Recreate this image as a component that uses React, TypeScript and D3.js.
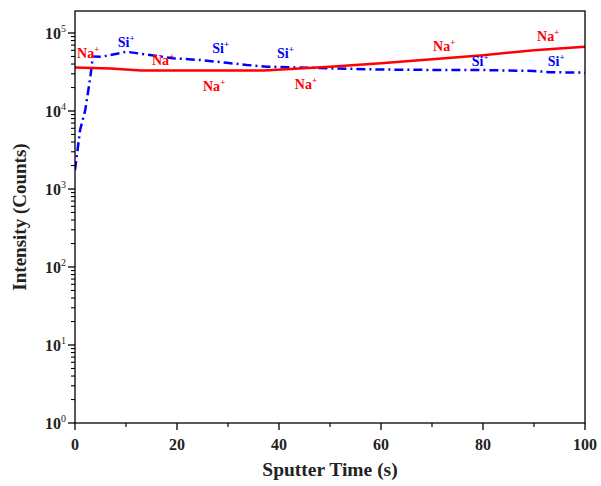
import React from 'react';
import * as d3 from 'd3';

// sputter time (s) and intensity (counts)
const naTime = [0, 7, 13, 37, 44, 50, 60, 70, 80, 90, 100];
const naCounts = [36000, 35000, 33000, 33000, 35000, 37000, 41000, 46000, 52000, 60000, 66700];

const siTime = [0, 0.3, 1, 2, 3, 3.5, 5.2, 10.1, 14.7, 19.2, 24.5, 29.7, 33.7, 37.6, 42.7, 49.4, 60, 70, 80, 90, 93, 100];
const siCounts = [1750, 2500, 5700, 10200, 27000, 50000, 49600, 57500, 52200, 47400, 45100, 41600, 38900, 37000, 36300, 35300, 34000, 33600, 33500, 32600, 31500, 31000];

const naLabels = [
  { t: 0.4, v: 48000 },
  { t: 15.1, v: 39000 },
  { t: 25.1, v: 18000 },
  { t: 43.1, v: 19100 },
  { t: 70.2, v: 58900 },
  { t: 90.6, v: 79000 },
];
const siLabels = [
  { t: 8.4, v: 66000 },
  { t: 26.9, v: 55500 },
  { t: 39.6, v: 48000 },
  { t: 77.8, v: 37800 },
  { t: 92.7, v: 37800 },
];

const xTicks = [0, 20, 40, 60, 80, 100];
const xMinor = [10, 30, 50, 70, 90];
const yExponents = [0, 1, 2, 3, 4, 5];

const width = 601;
const height = 486;
const left = 75;
const right = 585;
const bottom = 423;
const top = 11;

const font = '"Liberation Serif", "Times New Roman", serif';

export default function App() {
  const x = d3.scaleLinear().domain([0, 100]).range([left, right]);
  // 10^0 at bottom, 10^5 at y=33, frame top a bit above
  const y = d3.scaleLog().domain([1, 1e5]).range([bottom, 33]);
  const yTop = y.invert(top);
  const yFull = d3.scaleLog().domain([1, yTop]).range([bottom, top]);

  const line = d3
    .line<[number, number]>()
    .x((d) => x(d[0]))
    .y((d) => yFull(d[1]));

  const naData = naTime.map((t, i) => [t, naCounts[i]] as [number, number]);
  const siData = siTime.map((t, i) => [t, siCounts[i]] as [number, number]);

  const minor: number[] = [];
  for (let e = 0; e < 6; e++) {
    for (let k = 2; k <= 9; k++) {
      const v = k * Math.pow(10, e);
      if (v < yTop) minor.push(v);
    }
  }

  return (
    <svg
      width={width}
      height={height}
      style={{ position: 'absolute', left: 0, top: 0, background: '#fff' }}
      fontFamily={font}
    >
      <defs>
        <clipPath id="plot">
          <rect x={left} y={top} width={right - left} height={bottom - top} />
        </clipPath>
      </defs>

      <g clipPath="url(#plot)">
        <path d={line(siData) || ''} fill="none" stroke="#0000ff" strokeWidth={2.5} strokeDasharray="9,4,2,4" />
        <path d={line(naData) || ''} fill="none" stroke="#ff0000" strokeWidth={2.5} />
      </g>

      {naLabels.map((d, i) => (
        <text key={'na' + i} x={x(d.t)} y={yFull(d.v)} fill="#ff0000" fontSize={14} fontWeight="bold">
          Na<tspan dy={-6} fontSize={9}>+</tspan>
        </text>
      ))}
      {siLabels.map((d, i) => (
        <text key={'si' + i} x={x(d.t)} y={yFull(d.v)} fill="#0000ff" fontSize={14} fontWeight="bold">
          Si<tspan dy={-6} fontSize={9}>+</tspan>
        </text>
      ))}

      {/* frame */}
      <rect x={left} y={top} width={right - left} height={bottom - top} fill="none" stroke="#000" strokeWidth={1.3} />

      {/* x axis ticks */}
      {xTicks.map((t) => (
        <g key={'xt' + t}>
          <line x1={x(t)} x2={x(t)} y1={bottom} y2={bottom + 7} stroke="#000" strokeWidth={1.3} />
          <text x={x(t)} y={bottom + 27} textAnchor="middle" fontSize={16} fontWeight="bold" fill="#222">
            {t}
          </text>
        </g>
      ))}
      {xMinor.map((t) => (
        <line key={'xm' + t} x1={x(t)} x2={x(t)} y1={bottom} y2={bottom + 4} stroke="#000" strokeWidth={1.2} />
      ))}

      {/* y axis ticks */}
      {yExponents.map((e) => {
        const v = Math.pow(10, e);
        return (
          <g key={'yt' + e}>
            <line x1={left - 7} x2={left} y1={yFull(v)} y2={yFull(v)} stroke="#000" strokeWidth={1.3} />
            <text x={left - 14} y={yFull(v) + 6} textAnchor="end" fontSize={16} fontWeight="bold" fill="#222">
              10
            </text>
            <text x={left - 14} y={yFull(v) - 1} fontSize={10} fill="#222">
              {e}
            </text>
          </g>
        );
      })}
      {minor.map((v, i) => (
        <line key={'ym' + i} x1={left - 4} x2={left} y1={yFull(v)} y2={yFull(v)} stroke="#000" strokeWidth={1.1} />
      ))}

      {/* axis titles */}
      <text x={(left + right) / 2} y={476} textAnchor="middle" fontSize={19.5} fontWeight="bold" fill="#222">
        Sputter Time (s)
      </text>
      <text
        transform={`translate(26, ${(top + bottom) / 2}) rotate(-90)`}
        textAnchor="middle"
        fontSize={19}
        fontWeight="bold"
        fill="#222"
      >
        Intensity (Counts)
      </text>
    </svg>
  );
}
